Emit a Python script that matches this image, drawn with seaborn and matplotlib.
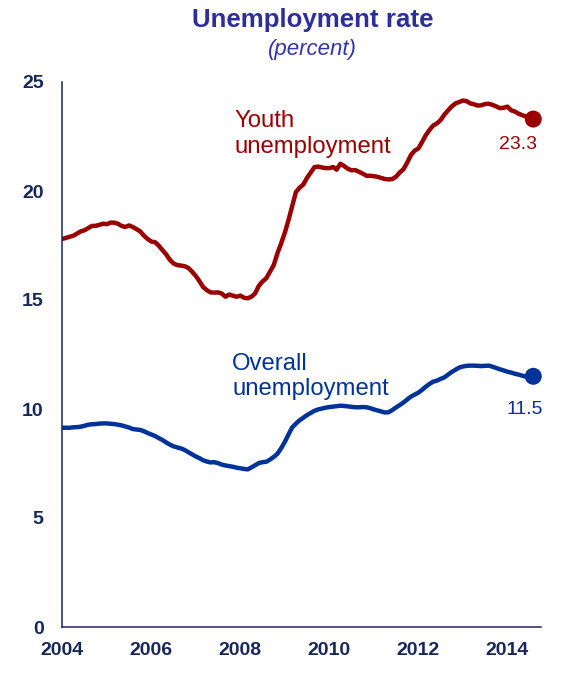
import numpy as np
import pandas as pd
import matplotlib
matplotlib.use("Agg")
import matplotlib.pyplot as plt
import matplotlib.dates as mdates
import seaborn as sns

# Monthly unemployment rates, Jan 2004 - Aug 2014
months = pd.date_range("2004-01-01", periods=128, freq="MS")

youth = [
    17.80, 17.85, 17.90, 17.95, 18.05, 18.15, 18.20, 18.30, 18.40, 18.40, 18.45, 18.50,
    18.48, 18.55, 18.55, 18.50, 18.40, 18.35, 18.42, 18.35, 18.25, 18.15, 17.95, 17.80,
    17.68, 17.65, 17.50, 17.30, 17.10, 16.85, 16.68, 16.60, 16.58, 16.55, 16.47, 16.30,
    16.10, 15.85, 15.60, 15.45, 15.35, 15.34, 15.35, 15.30, 15.15, 15.25, 15.20, 15.15,
    15.20, 15.10, 15.08, 15.15, 15.30, 15.65, 15.85, 16.00, 16.30, 16.60, 17.15, 17.60,
    18.10, 18.70, 19.30, 19.95, 20.15, 20.30, 20.60, 20.85, 21.10, 21.12, 21.08, 21.05,
    21.05, 21.10, 20.98, 21.25, 21.15, 21.02, 20.95, 20.96, 20.88, 20.80, 20.70, 20.70,
    20.68, 20.65, 20.60, 20.55, 20.53, 20.55, 20.65, 20.85, 21.00, 21.30, 21.65, 21.85,
    21.95, 22.25, 22.55, 22.80, 23.00, 23.10, 23.25, 23.50, 23.70, 23.88, 24.02, 24.08,
    24.15, 24.12, 24.02, 23.98, 23.92, 23.93, 23.99, 24.00, 23.95, 23.88, 23.80, 23.82,
    23.87, 23.70, 23.65, 23.55, 23.48, 23.42, 23.36, 23.30,
]

overall = [
    9.14, 9.14, 9.14, 9.16, 9.17, 9.19, 9.23, 9.28, 9.30, 9.31, 9.33, 9.34,
    9.34, 9.32, 9.31, 9.28, 9.25, 9.20, 9.15, 9.08, 9.06, 9.04, 8.98, 8.90,
    8.83, 8.76, 8.67, 8.58, 8.47, 8.37, 8.29, 8.24, 8.19, 8.12, 8.02, 7.92,
    7.82, 7.74, 7.65, 7.59, 7.55, 7.56, 7.52, 7.45, 7.41, 7.38, 7.35, 7.31,
    7.28, 7.25, 7.23, 7.32, 7.42, 7.52, 7.56, 7.58, 7.68, 7.80, 7.95, 8.20,
    8.50, 8.85, 9.15, 9.33, 9.48, 9.60, 9.72, 9.82, 9.92, 9.98, 10.02, 10.06,
    10.09, 10.11, 10.13, 10.15, 10.14, 10.12, 10.10, 10.08, 10.08, 10.09, 10.08, 10.04,
    9.98, 9.93, 9.88, 9.84, 9.85, 9.95, 10.07, 10.18, 10.30, 10.43, 10.57, 10.66,
    10.75, 10.88, 11.02, 11.15, 11.25, 11.30, 11.38, 11.45, 11.58, 11.70, 11.80, 11.90,
    11.95, 11.98, 11.99, 11.99, 11.98, 11.97, 11.98, 11.99, 11.94, 11.88, 11.82, 11.77,
    11.71, 11.67, 11.62, 11.58, 11.53, 11.48, 11.49, 11.50,
]

series_names = ["Youth", "Overall"]
year_ticks = [2004, 2006, 2008, 2010, 2012, 2014]
y_ticks = [0, 5, 10, 15, 20, 25]

RED = "#9A0000"
BLUE = "#003399"
NAVY = "#17275C"

df = pd.concat([
    pd.DataFrame({"date": months, "rate": youth, "series": "Youth"}),
    pd.DataFrame({"date": months, "rate": overall, "series": "Overall"}),
])
last = df[df["date"] == months[-1]]

sns.set_style("white")
plt.rcParams["font.family"] = ["Liberation Sans", "DejaVu Sans"]

fig = plt.figure(figsize=(5.68, 6.73), dpi=100)
ax = fig.add_axes([62.3 / 568, 46 / 673, (540.7 - 62.3) / 568, 545 / 673])

sns.lineplot(data=df, x="date", y="rate", hue="series", hue_order=series_names,
             palette=[RED, BLUE], linewidth=3.2, legend=False, ax=ax)
sns.scatterplot(data=last, x="date", y="rate", hue="series", hue_order=series_names,
                palette=[RED, BLUE], s=150, edgecolor="none", legend=False,
                ax=ax, zorder=5, clip_on=False)

ax.set_xlim(pd.Timestamp("2004-01-01"), pd.Timestamp("2014-10-01"))
ax.set_ylim(0, 25)
ax.set_xticks([pd.Timestamp(f"{y}-01-01") for y in year_ticks])
ax.xaxis.set_major_formatter(mdates.DateFormatter("%Y"))
ax.set_yticks(y_ticks)
ax.set_xlabel("")
ax.set_ylabel("")

for side in ["top", "right"]:
    ax.spines[side].set_visible(False)
for side in ["left", "bottom"]:
    ax.spines[side].set_color(NAVY)
    ax.spines[side].set_linewidth(1.1)

ax.tick_params(axis="both", direction="out", length=4.5, width=1.1, color=NAVY,
               labelcolor=NAVY, labelsize=14)
ax.tick_params(axis="y", pad=9)
ax.tick_params(axis="x", pad=6)
for lab in ax.get_xticklabels() + ax.get_yticklabels():
    lab.set_fontweight("bold")

# Titles
fig.text(313 / 568, 1 - 27 / 673, "Unemployment rate", ha="center", va="baseline",
         fontsize=18.6, fontweight="bold", color="#2E2E9A")
fig.text(312 / 568, 1 - 55 / 673, "(percent)", ha="center", va="baseline",
         fontsize=16, fontstyle="italic", color="#3333AA")

# Series labels
fig.text(234 / 568, 1 - 127 / 673, "Youth", ha="left", va="baseline",
         fontsize=17.2, color=RED)
fig.text(234 / 568, 1 - 153 / 673, "unemployment", ha="left", va="baseline",
         fontsize=17.2, color=RED)
fig.text(232 / 568, 1 - 370 / 673, "Overall", ha="left", va="baseline",
         fontsize=17.2, color=BLUE)
fig.text(232 / 568, 1 - 395 / 673, "unemployment", ha="left", va="baseline",
         fontsize=17.2, color=BLUE)

# End values
fig.text(518 / 568, 1 - 136 / 673, f"{youth[-1]:.1f}", ha="center", va="top",
         fontsize=14, color=RED)
fig.text(525 / 568, 1 - 401 / 673, f"{overall[-1]:.1f}", ha="center", va="top",
         fontsize=14, color=BLUE)

fig.savefig("out.png", dpi=100)
